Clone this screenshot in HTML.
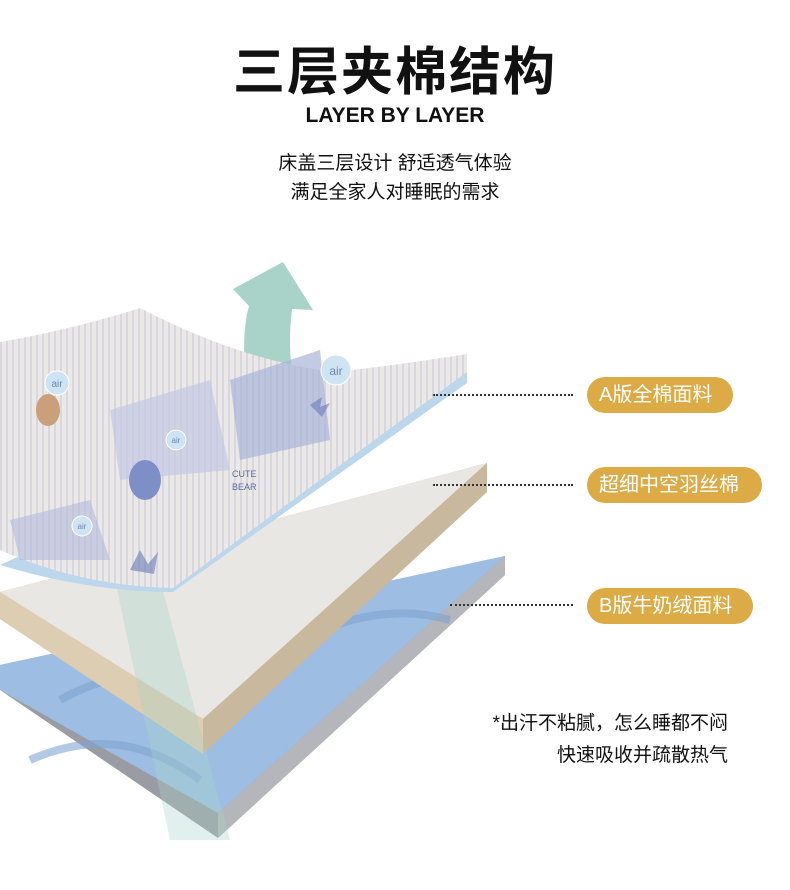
<!DOCTYPE html>
<html><head><meta charset="utf-8">
<style>
html,body{margin:0;padding:0;background:#fff;}
body{width:790px;height:890px;position:relative;overflow:hidden;font-family:"Liberation Sans","Noto Sans CJK SC",sans-serif;}
.t{position:absolute;left:0;width:790px;text-align:center;color:#111;}
.pill{position:absolute;left:587px;height:36px;border-radius:18px;background:#dcab45;color:#fff;font-size:20px;line-height:36px;padding:0 12px;box-sizing:border-box;white-space:nowrap;}
.dot{position:absolute;left:433px;width:140px;border-top:2px dotted #333;}
.note{position:absolute;right:62px;font-size:19px;color:#111;text-align:right;}
</style></head><body>
<div class="t" style="top:30px;font-size:52px;font-weight:bold;letter-spacing:2px;">三层夹棉结构</div>
<div class="t" style="top:104px;font-size:21px;font-weight:bold;">LAYER BY LAYER</div>
<div class="t" style="top:148px;font-size:19px;">床盖三层设计 舒适透气体验</div>
<div class="t" style="top:177px;font-size:19px;">满足全家人对睡眠的需求</div>

<svg width="790" height="890" style="position:absolute;left:0;top:0">
<defs>
<pattern id="st" width="6" height="6" patternUnits="userSpaceOnUse"><rect width="6" height="6" fill="#ebe9e7"/><rect width="2" height="6" fill="#d8d7de"/></pattern>
</defs>
<!-- arrow -->
<path d="M245,372 Q242,330 249,306 L233,289 L283,262 L313,310 L292,309 Q288,340 292,372 Z" fill="#a9d3c8"/>
<!-- bottom layer -->
<polygon points="0,665 505,556 505,575 218,838 0,690" fill="#9a9ca3"/>
<polygon points="0,665 505,556 218,813 0,690" fill="#9dbde2"/>
<polygon points="505,556 505,575 218,838 218,813" fill="#b4b6bb"/>
<path d="M60,700 Q150,650 250,690 M300,640 Q380,600 450,620 M30,760 Q120,720 200,780" stroke="#7ea3d0" stroke-width="8" fill="none" opacity=".6"/>
<!-- middle layer -->
<polygon points="0,592 487,463 487,492 203,754 0,619" fill="#c9b79d"/>
<polygon points="0,592 487,463 203,719 0,619" fill="#e9e7e3"/>
<polygon points="487,463 487,492 203,754 203,719" fill="#c8b89e"/>
<polygon points="0,592 203,719 203,754 0,619" fill="#ddcdb3"/>
<!-- translucent band -->
<polygon points="115,580 160,580 230,840 170,840" fill="#a9d3c8" opacity=".35"/>
<!-- top layer -->
<path d="M0,565 Q90,592 173,592 L467,383 L467,354 Z" fill="#bcd6ec"/>
<path d="M0,342 Q70,330 140,308 Q240,360 333,372 Q400,365 467,354 L467,372 L173,588 Q80,586 0,550 Z" fill="url(#st)"/>
<polygon points="110,410 210,380 230,470 120,480" fill="#c3c8e2" opacity=".7"/>
<polygon points="230,380 320,350 330,440 240,460" fill="#aab3d8" opacity=".7"/>
<polygon points="10,520 90,500 110,560 20,560" fill="#b3bbdb" opacity=".6"/>
<circle cx="57" cy="383" r="12" fill="#cfe4f3" stroke="#fff"/>
<circle cx="336" cy="370" r="15" fill="#cfe4f3" stroke="#fff"/>
<circle cx="176" cy="440" r="10" fill="#cfe4f3" stroke="#fff"/>
<circle cx="82" cy="526" r="10" fill="#cfe4f3" stroke="#fff"/>
<text x="57" y="387" font-size="10" fill="#6b88b0" text-anchor="middle" font-family="Liberation Sans">air</text>
<text x="336" y="375" font-size="12" fill="#6b88b0" text-anchor="middle" font-family="Liberation Sans">air</text>
<text x="176" y="443" font-size="8" fill="#6b88b0" text-anchor="middle" font-family="Liberation Sans">air</text>
<text x="82" y="529" font-size="8" fill="#6b88b0" text-anchor="middle" font-family="Liberation Sans">air</text>
<text x="232" y="477" font-size="9" fill="#5a6aa8" font-family="Liberation Sans">CUTE</text>
<text x="232" y="490" font-size="9" fill="#5a6aa8" font-family="Liberation Sans">BEAR</text>
<ellipse cx="145" cy="480" rx="16" ry="20" fill="#7e8fc7"/>
<ellipse cx="48" cy="410" rx="12" ry="16" fill="#c9a07a"/>
<path d="M310,405 l12,-8 l-2,10 l10,-4 l-8,14 z" fill="#6b7cb8" opacity=".6"/>
<path d="M130,570 l10,-20 l8,14 l10,-12 l-4,22 z" fill="#6b7cb8" opacity=".6"/>
</svg>

<div class="dot" style="top:394px"></div>
<div class="dot" style="top:484px"></div>
<div class="dot" style="top:604px;left:450px;width:123px"></div>
<div class="pill" style="top:377px;width:146px">A版全棉面料</div>
<div class="pill" style="top:467px;width:175px">超细中空羽丝棉</div>
<div class="pill" style="top:588px;width:166px">B版牛奶绒面料</div>
<div class="note" style="top:708px">*出汗不粘腻，怎么睡都不闷</div>
<div class="note" style="top:740px">快速吸收并疏散热气</div>
</body></html>
